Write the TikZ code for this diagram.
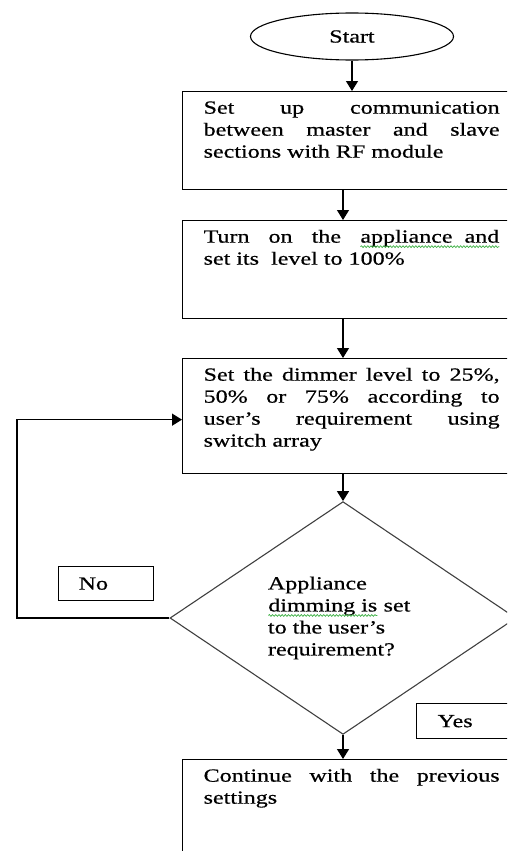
\documentclass[tikz,border=0pt]{standalone}
\usepackage{fontspec}
\setmainfont[FakeStretch=1.3, FakeBold=0.6]{Liberation Serif}
\usetikzlibrary{positioning, arrows.meta, shapes.geometric, decorations.pathmorphing}
\definecolor{squigGreen}{HTML}{3CB043}
\newcommand{\gsquig}[1]{\tikz[baseline=(sq.base)]{\node[shape=rectangle, draw=none, anchor=base, minimum size=0pt, inner sep=0pt, outer sep=0pt] (sq) {#1};
  \draw[squigGreen, line width=0.7pt, decorate, decoration={snake, amplitude=0.9pt, segment length=3.2pt}]
    ([yshift=-4pt]sq.base west) -- ([yshift=-4pt]sq.base east);}}
\newcommand{\boxtext}[2]{\parbox[c][#1][t]{296pt}{\tolerance=10000\rule{0pt}{22pt}#2}}
\tikzset{
  every node/.style={font=\fontsize{18.5pt}{22pt}\selectfont},
  arr/.style={-{Triangle[width=12pt,length=10pt]}, line width=1.3pt},
  procbox/.style={draw, line width=1.3pt, inner xsep=21pt, inner ysep=0pt, anchor=north west},
  term/.style={draw, ellipse, line width=1.1pt, minimum width=203pt, minimum height=47pt, inner sep=0pt},
  decision/.style={draw=black!75, diamond, line width=1.1pt, minimum width=346pt, minimum height=204pt, inner sep=0pt},
  tagbox/.style={draw, line width=1.3pt, inner xsep=20pt, inner ysep=0pt, minimum height=34pt, align=left, anchor=north west},
}

\begin{document}
\begin{tikzpicture}[x=1pt, y=1pt]
  \useasboundingbox (0,0) rectangle (507,-851);
  \clip (0,0) rectangle (507,-851);
  % start
  \node[term] (start) at (352,-36.5) {Start};
  % steps
  \node[procbox] (setup)  at (182,-91)  {\boxtext{98pt}{Set up communication\linebreak between master and slave\linebreak sections with RF module}};
  \node[procbox] (turnon) at (182,-220) {\boxtext{98pt}{Turn on the \gsquig{appliance~ and}\linebreak set its~ level to 100\%}};
  \node[procbox] (dimmer) at (182,-358) {\boxtext{115pt}{Set the dimmer level to 25\%,\linebreak 50\% or 75\% according to\linebreak user’s requirement using\linebreak switch array}};
  \node[decision] (check) at (343,-618) {\parbox{150pt}{\raggedright Appliance\\ \gsquig{dimming is} set\\ to the user’s\\ requirement?}};
  \node[procbox] (keep)   at (182,-759) {\boxtext{120pt}{Continue with the previous\linebreak settings}};
  % answers
  \node[tagbox, text width=55pt] (no) at (58,-566) {No};
  \node[tagbox, text width=63pt, inner xsep=21pt, minimum height=35pt] (yes) at (416,-703) {Yes};
  % flow
  \coordinate (back) at (17,-618);
  \draw[arr] (start) -- (start |- setup.north);
  \draw[arr] (setup.south -| check.north) -- (turnon.north -| check.north);
  \draw[arr] (turnon.south -| check.north) -- (dimmer.north -| check.north);
  \draw[arr] (dimmer.south -| check.north) -- (check.north);
  \draw[arr] (check.south) -- (keep.north -| check.south);
  \draw[arr] (check.west) -- (back) |- ([yshift=-3.5pt]dimmer.west);
\end{tikzpicture}
\end{document}
